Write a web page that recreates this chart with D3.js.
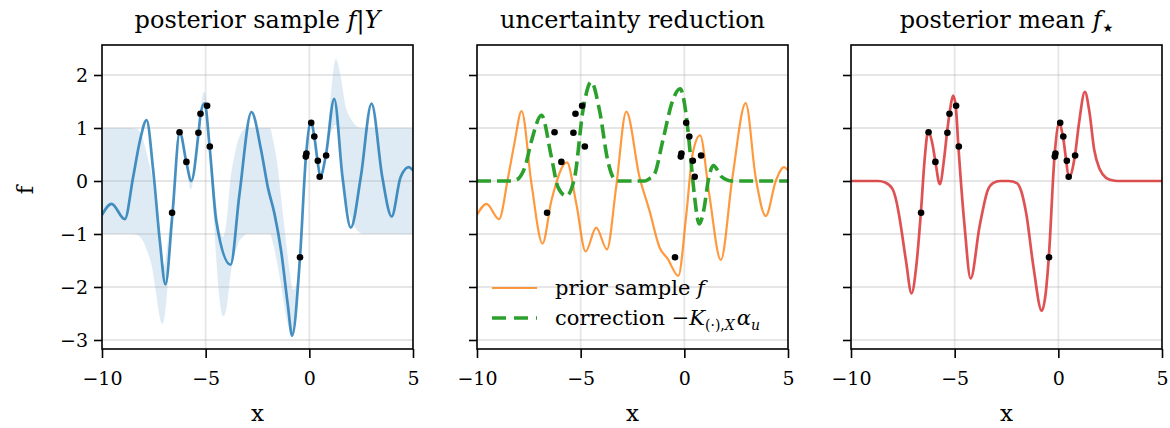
<!DOCTYPE html>
<html>
<head>
<meta charset="utf-8">
<script src="https://cdn.jsdelivr.net/npm/d3@7"></script>
<style>
  body { margin: 0; background: #fff; }
  text { font-family: "DejaVu Serif", serif; fill: #000; }
</style>
</head>
<body>
<svg id="chart" width="1170" height="428"></svg>
<script>
// ticks
var xTicks = [-10, -5, 0, 5];
var yTicks = [-3, -2, -1, 0, 1, 2];

// observations (same in every panel)
var obsX = [-6.62, -6.26, -5.93, -5.35, -5.25, -4.93, -4.8, -0.45, -0.17, -0.14, 0.09, 0.24, 0.41, 0.5, 0.81];
var obsY = [-0.6, 0.92, 0.36, 0.91, 1.27, 1.42, 0.65, -1.44, 0.46, 0.52, 1.1, 0.84, 0.38, 0.08, 0.48];

// posterior sample f|Y
var sampleX = [-10, -9.54, -8.9, -8.5, -8.17, -7.85, -7.53, -7.21, -6.94, -6.6, -6.25, -5.93, -5.69, -5.34, -5.24, -5.05, -4.81, -4.49, -3.8, -3.37, -2.79, -2.32, -2.0, -1.68, -1.36, -1.04, -0.83, -0.45, -0.16, 0.08, 0.24, 0.4, 0.53, 0.8, 1.2, 1.6, 2.0, 2.48, 3.0, 3.52, 3.97, 4.4, 4.8, 5.0];
var sampleY = [-0.64, -0.43, -0.72, 0.07, 0.76, 1.15, 0.2, -1.13, -1.95, -0.61, 0.92, 0.35, 0.0, 0.92, 1.27, 1.47, 0.65, -0.75, -1.58, -0.25, 1.3, 0.57, -0.12, -0.62, -1.32, -2.33, -2.92, -1.44, 0.48, 1.11, 0.84, 0.37, 0.08, 0.49, 1.55, 0.07, -0.88, 0.07, 1.46, 0.07, -0.67, 0.07, 0.26, 0.2];

// posterior band (lower / upper)
var bandX = [-10, -8.6, -8.3, -8.0, -7.8, -7.6, -7.4, -7.2, -7.1, -7.0, -6.85, -6.7, -6.6, -6.45, -6.28, -6.1, -5.93, -5.72, -5.5, -5.37, -5.26, -5.08, -4.95, -4.82, -4.65, -4.5, -4.3, -4.15, -4.0, -3.8, -3.6, -3.4, -3.2, -3.0, -1.9, -1.75, -1.55, -1.35, -1.15, -0.95, -0.8, -0.65, -0.46, -0.3, -0.16, 0.05, 0.22, 0.4, 0.53, 0.8, 1.0, 1.28, 1.5, 1.73, 2.0, 2.3, 2.6, 5];
var bandLo = [-1, -1, -1.02, -1.15, -1.35, -1.6, -2.1, -2.6, -2.7, -2.6, -2.05, -1.2, -0.65, 0.3, 0.88, 0.68, 0.32, -0.16, 0.32, 0.86, 1.22, 1.53, 1.37, 0.6, -0.4, -1.4, -2.33, -2.55, -2.42, -1.76, -1.4, -1.15, -1.05, -1, -1, -1.18, -1.56, -2.0, -2.5, -2.8, -2.85, -2.4, -1.49, -0.5, 0.44, 1.05, 0.79, 0.33, 0.02, 0.43, 0.85, 1.06, 0.5, -0.26, -0.68, -0.93, -1, -1];
var bandHi = [1, 1, 0.98, 0.75, 0.45, 0.1, -0.55, -1.25, -1.5, -1.6, -1.2, -0.75, -0.55, 0.46, 0.98, 0.82, 0.42, 0.04, 0.48, 0.96, 1.32, 1.69, 1.47, 0.7, 0.2, -0.4, -0.97, -1.05, -0.78, 0.04, 0.5, 0.81, 0.95, 1, 1, 0.78, 0.34, -0.35, -1.05, -1.7, -2.05, -2.0, -1.39, -0.3, 0.54, 1.15, 0.89, 0.43, 0.14, 0.53, 1.45, 2.3, 2.0, 1.44, 1.18, 1.03, 1, 1];

// prior sample f
var priorX = [-10, -9.54, -8.94, -8.5, -8.2, -7.85, -7.37, -6.84, -6.41, -5.66, -5.21, -4.76, -4.25, -3.73, -3.29, -2.8, -2.16, -1.68, -1.2, -0.8, -0.29, 0.08, 0.4, 0.76, 1.2, 1.76, 2.32, 2.96, 3.44, 3.93, 4.41, 4.81, 5.0];
var priorY = [-0.64, -0.43, -0.72, 0.07, 0.7, 1.32, -0.06, -1.18, -0.37, 0.35, -0.43, -1.33, -0.88, -1.29, -0.12, 1.31, 0.07, -0.56, -1.25, -1.47, -1.79, -0.69, 0.51, 0.86, -0.25, -1.49, 0.07, 1.47, 0.07, -0.66, 0.0, 0.26, 0.2];

// correction -K alpha
var corrX = [-10, -8.4, -8.1, -7.9, -7.69, -7.37, -6.89, -6.41, -6.09, -5.69, -5.29, -4.89, -4.49, -4.09, -3.69, -3.45, -3.2, -1.9, -1.7, -1.44, -1.04, -0.56, -0.2, 0.08, 0.32, 0.48, 0.72, 0.96, 1.15, 1.4, 1.8, 2.05, 2.3, 5];
var corrY = [0, 0, 0.02, 0.09, 0.26, 0.76, 1.24, 0.45, -0.12, -0.28, 0.07, 1.33, 1.87, 1.33, 0.38, 0.08, 0.0, 0.0, 0.04, 0.13, 0.76, 1.52, 1.74, 1.27, 0.38, -0.25, -0.81, -0.5, 0.0, 0.29, 0.08, 0.02, 0, 0];

// posterior mean f*
var meanX = [-10, -8.7, -8.35, -8.0, -7.8, -7.64, -7.35, -7.08, -6.85, -6.63, -6.45, -6.28, -6.1, -5.93, -5.72, -5.5, -5.37, -5.22, -5.08, -4.95, -4.82, -4.52, -4.23, -3.8, -3.4, -3.15, -2.8, -2.4, -2.0, -1.8, -1.55, -1.2, -0.8, -0.62, -0.46, -0.18, 0.05, 0.22, 0.53, 0.8, 1.0, 1.28, 1.5, 1.73, 2.0, 2.3, 2.65, 3.0, 5];
var meanY = [0, 0, -0.03, -0.15, -0.4, -0.74, -1.5, -2.12, -1.6, -0.6, 0.4, 0.93, 0.75, 0.37, -0.06, 0.45, 0.91, 1.35, 1.61, 1.42, 0.65, -0.86, -1.84, -0.86, -0.17, -0.04, 0.0, 0.0, -0.04, -0.18, -0.61, -1.62, -2.45, -2.15, -1.44, 0.49, 1.1, 0.84, 0.08, 0.48, 1.1, 1.68, 1.3, 0.59, 0.22, 0.06, 0.01, 0, 0];

var svg = d3.select("#chart");
var lefts = [102, 477, 851];
var top0 = 45, pw = 311, ph = 304;

var x = d3.scaleLinear().domain([-10, 5]).range([0, pw]);
var y = d3.scaleLinear().domain([-3.17, 2.566]).range([ph, 0]);

function pts(xs, ys) {
    return xs.map(function (d, i) { return [d, ys[i]] });
}

var line = d3.line()
    .x(function (d) { return x(d[0]) })
    .y(function (d) { return y(d[1]) })
    .curve(d3.curveMonotoneX);

var area = d3.area()
    .x(function (d) { return x(d[0]) })
    .y0(function (d) { return y(d[1]) })
    .y1(function (d) { return y(d[2]) })
    .curve(d3.curveMonotoneX);

svg.append("defs").append("clipPath").attr("id", "clip")
    .append("rect").attr("width", pw).attr("height", ph);

var panels = lefts.map(function (l) {
    return svg.append("g").attr("transform", "translate(" + l + "," + top0 + ")");
});

panels.forEach(function (g, p) {
    var plot = g.append("g").attr("clip-path", "url(#clip)");
    plot.append("g").attr("class", "band");
    var grid = plot.append("g").attr("class", "grid");
    grid.selectAll("line.v").data(xTicks).join("line")
        .attr("x1", function (d) { return x(d) }).attr("x2", function (d) { return x(d) })
        .attr("y1", 0).attr("y2", ph);
    grid.selectAll("line.h").data(yTicks).join("line")
        .attr("x1", 0).attr("x2", pw)
        .attr("y1", function (d) { return y(d) }).attr("y2", function (d) { return y(d) });
    grid.selectAll("line").attr("stroke", "#b0b0b0").attr("stroke-opacity", 0.32).attr("stroke-width", 1.8);
    plot.append("g").attr("class", "marks");
});

// panel 1
var p1 = panels[0].select(".band");
var bandData = bandX.map(function (d, i) { return [d, bandLo[i], bandHi[i]] });
p1.append("path").attr("d", area(bandData)).attr("fill", "#1f77b4").attr("fill-opacity", 0.15);
panels[0].select(".marks").append("path").attr("d", line(pts(sampleX, sampleY)))
    .attr("fill", "none").attr("stroke", "#1f77b4").attr("stroke-opacity", 0.82).attr("stroke-width", 2.7);

// panel 2
var m2 = panels[1].select(".marks");
m2.append("path").attr("d", line(pts(priorX, priorY)))
    .attr("fill", "none").attr("stroke", "#ff7f0e").attr("stroke-opacity", 0.8).attr("stroke-width", 2.2);
m2.append("path").attr("d", line(pts(corrX, corrY)))
    .attr("fill", "none").attr("stroke", "#2ca02c").attr("stroke-width", 3.6).attr("stroke-dasharray", "14,6");

// panel 3
panels[2].select(".marks").append("path").attr("d", line(pts(meanX, meanY)))
    .attr("fill", "none").attr("stroke", "#d62728").attr("stroke-opacity", 0.8).attr("stroke-width", 2.7);

// dots, spines, axes
panels.forEach(function (g, p) {
    g.select(".marks").selectAll("circle").data(pts(obsX, obsY)).join("circle")
        .attr("cx", function (d) { return x(d[0]) })
        .attr("cy", function (d) { return y(d[1]) })
        .attr("r", 3.3).attr("fill", "#000");

    var xa = g.append("g").attr("transform", "translate(0," + ph + ")")
        .call(d3.axisBottom(x).tickValues(xTicks).tickSize(9).tickPadding(14)
            .tickFormat(function (d) { return d < 0 ? "\u2212" + Math.abs(d) : d }));
    xa.select(".domain").remove();
    xa.selectAll("line").attr("stroke-width", 1.6);
    xa.selectAll("text").attr("font-size", 19).attr("font-family", "DejaVu Serif");

    var ya = g.append("g")
        .call(d3.axisLeft(y).tickValues(yTicks).tickSize(8).tickPadding(6)
            .tickFormat(function (d) { return p == 0 ? (d < 0 ? "\u2212" + Math.abs(d) : d) : "" }));
    ya.select(".domain").remove();
    ya.selectAll("line").attr("stroke-width", 1.6);
    ya.selectAll("text").attr("font-size", 19).attr("font-family", "DejaVu Serif");

    g.append("rect").attr("width", pw).attr("height", ph)
        .attr("fill", "none").attr("stroke", "#000").attr("stroke-width", 1.6);

    g.append("text").attr("x", pw / 2).attr("y", 376).attr("text-anchor", "middle")
        .attr("font-size", 23).text("x");
});

// titles
var t1 = svg.append("text").attr("x", lefts[0] + pw / 2).attr("y", 28).attr("text-anchor", "middle").attr("font-size", 24);
t1.append("tspan").text("posterior sample ");
t1.append("tspan").attr("font-style", "italic").text("f");
t1.append("tspan").text("|");
t1.append("tspan").attr("font-style", "italic").text("Y");

svg.append("text").attr("x", lefts[1] + pw / 2).attr("y", 28).attr("text-anchor", "middle").attr("font-size", 24)
    .text("uncertainty reduction");

var t3 = svg.append("text").attr("x", lefts[2] + pw / 2).attr("y", 28).attr("text-anchor", "middle").attr("font-size", 24);
t3.append("tspan").text("posterior mean ");
t3.append("tspan").attr("font-style", "italic").text("f");
t3.append("tspan").attr("font-size", 12).attr("dy", 4).attr("dx", 1).attr("font-family", "DejaVu Sans").text("\u2605");

// y label
svg.append("text").attr("transform", "translate(33,190) rotate(-90)").attr("text-anchor", "middle")
    .attr("font-size", 23).text("f");

// legend in panel 2
var lg = svg.append("g").attr("transform", "translate(" + lefts[1] + ",0)");
lg.append("line").attr("x1", 15).attr("x2", 60).attr("y1", 288).attr("y2", 288)
    .attr("stroke", "#ff7f0e").attr("stroke-opacity", 0.8).attr("stroke-width", 2.2);
lg.append("line").attr("x1", 15).attr("x2", 60).attr("y1", 318).attr("y2", 318)
    .attr("stroke", "#2ca02c").attr("stroke-width", 3.6).attr("stroke-dasharray", "14,8");
var l1 = lg.append("text").attr("x", 78).attr("y", 295).attr("font-size", 21);
l1.append("tspan").text("prior sample ");
l1.append("tspan").attr("font-style", "italic").text("f");
var l2 = lg.append("text").attr("x", 78).attr("y", 325).attr("font-size", 21);
l2.append("tspan").text("correction \u2212");
l2.append("tspan").attr("font-style", "italic").text("K");
l2.append("tspan").attr("font-size", 14).attr("dy", 5).text("(\u00b7),");
l2.append("tspan").attr("font-size", 14).attr("font-style", "italic").text("X");
l2.append("tspan").attr("font-style", "italic").attr("dy", -5).attr("dx", 2).text("\u03b1");
l2.append("tspan").attr("font-size", 14).attr("font-style", "italic").attr("dy", 5).text("u");
</script>
</body>
</html>
